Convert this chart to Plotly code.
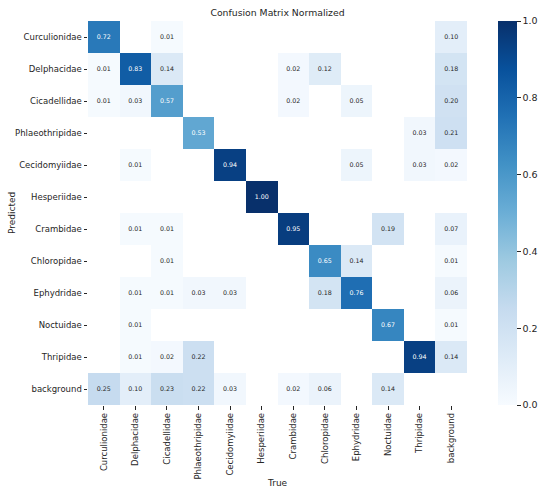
import numpy as np
import plotly.graph_objects as go

classes = ["Curculionidae", "Delphacidae", "Cicadellidae", "Phlaeothripidae",
           "Cecidomyiidae", "Hesperiidae", "Crambidae", "Chloropidae",
           "Ephydridae", "Noctuidae", "Thripidae", "background"]

# rows = Predicted, columns = True (None = empty cell)
row_curculionidae   = [0.72, None, 0.01, None, None, None, None, None, None, None, None, 0.10]
row_delphacidae     = [0.01, 0.83, 0.14, None, None, None, 0.02, 0.12, None, None, None, 0.18]
row_cicadellidae    = [0.01, 0.03, 0.57, None, None, None, 0.02, None, 0.05, None, None, 0.20]
row_phlaeothripidae = [None, None, None, 0.53, None, None, None, None, None, None, 0.03, 0.21]
row_cecidomyiidae   = [None, 0.01, None, None, 0.94, None, None, None, 0.05, None, 0.03, 0.02]
row_hesperiidae     = [None, None, None, None, None, 1.00, None, None, None, None, None, None]
row_crambidae       = [None, 0.01, 0.01, None, None, None, 0.95, None, None, 0.19, None, 0.07]
row_chloropidae     = [None, None, 0.01, None, None, None, None, 0.65, 0.14, None, None, 0.01]
row_ephydridae      = [None, 0.01, 0.01, 0.03, 0.03, None, None, 0.18, 0.76, None, None, 0.06]
row_noctuidae       = [None, 0.01, None, None, None, None, None, None, None, 0.67, None, 0.01]
row_thripidae       = [None, 0.01, 0.02, 0.22, None, None, None, None, None, None, 0.94, 0.14]
row_background      = [0.25, 0.10, 0.23, 0.22, 0.03, None, 0.02, 0.06, None, 0.14, None, None]

rows = [row_curculionidae, row_delphacidae, row_cicadellidae, row_phlaeothripidae,
        row_cecidomyiidae, row_hesperiidae, row_crambidae, row_chloropidae,
        row_ephydridae, row_noctuidae, row_thripidae, row_background]

z = np.array([[np.nan if v is None else v for v in r] for r in rows], dtype=float)

blues = ["#f7fbff", "#deebf7", "#c6dbef", "#9ecae1", "#6baed6",
         "#4292c6", "#2171b5", "#08519c", "#08306b"]
colorscale = [[i / (len(blues) - 1), c] for i, c in enumerate(blues)]

TXT = "#262626"
FONT = "DejaVu Sans"

W, H = 550, 497

fig = go.Figure()
fig.add_trace(go.Heatmap(
    z=z, x=classes, y=classes, zmin=0, zmax=1, colorscale=colorscale,
    hoverongaps=False,
    colorbar=dict(
        x=1.0807, xanchor="left", xref="paper", xpad=0,
        y=0.5, yanchor="middle", len=1, lenmode="fraction", ypad=0,
        thickness=19, outlinewidth=0,
        tickmode="linear", tick0=0, dtick=0.2, tickformat=".1f",
        ticks="outside", ticklen=4, tickwidth=0.8, tickcolor=TXT,
        tickfont=dict(family=FONT, size=9.5, color=TXT),
    ),
))

# cell labels
tx, ty, tt, tc = [], [], [], []
for i, r in enumerate(rows):
    for j, v in enumerate(r):
        if v is None:
            continue
        tx.append(classes[j]); ty.append(classes[i])
        tt.append(f"{v:.2f}")
        tc.append("white" if v > 0.45 else TXT)
fig.add_trace(go.Scatter(
    x=tx, y=ty, mode="text", text=tt,
    textfont=dict(family=FONT, size=6.3, color=tc),
    hoverinfo="skip", showlegend=False,
))

fig.update_layout(
    width=W, height=H,
    margin=dict(l=88, r=78, t=21, b=92),
    paper_bgcolor="white", plot_bgcolor="white",
    font=dict(family=FONT, color=TXT),
    showlegend=False,
    title=dict(text="Confusion Matrix Normalized", x=0.5, xref="paper", xanchor="center",
               y=1 - 13 / H, yref="container", yanchor="middle",
               font=dict(family=FONT, size=9.3, color=TXT)),
    xaxis=dict(type="category", categoryorder="array", categoryarray=classes,
               tickangle=-90, ticks="outside", ticklen=3.5, tickwidth=0.8, tickcolor=TXT,
               tickfont=dict(family=FONT, size=8.5, color=TXT),
               showgrid=False, zeroline=False, showline=False, automargin=False,
               range=[-0.5, 11.5]),
    yaxis=dict(type="category", categoryorder="array", categoryarray=classes,
               autorange=False, range=[11.5, -0.5],
               ticks="outside", ticklen=3.5, tickwidth=0.8, tickcolor=TXT,
               tickfont=dict(family=FONT, size=8.5, color=TXT),
               showgrid=False, zeroline=False, showline=False, automargin=False),
    annotations=[
        dict(text="True", xref="paper", yref="paper", x=0.5, y=-(483 - 405) / 384,
             xanchor="center", yanchor="middle", showarrow=False,
             font=dict(family=FONT, size=9, color=TXT)),
        dict(text="Predicted", xref="paper", yref="paper", x=-(88 - 11) / 384, y=0.5,
             xanchor="center", yanchor="middle", showarrow=False, textangle=-90,
             font=dict(family=FONT, size=9, color=TXT)),
    ],
)

fig.write_html("out.html", config={"displayModeBar": False},
               post_script="document.body.style.margin='0px';")
